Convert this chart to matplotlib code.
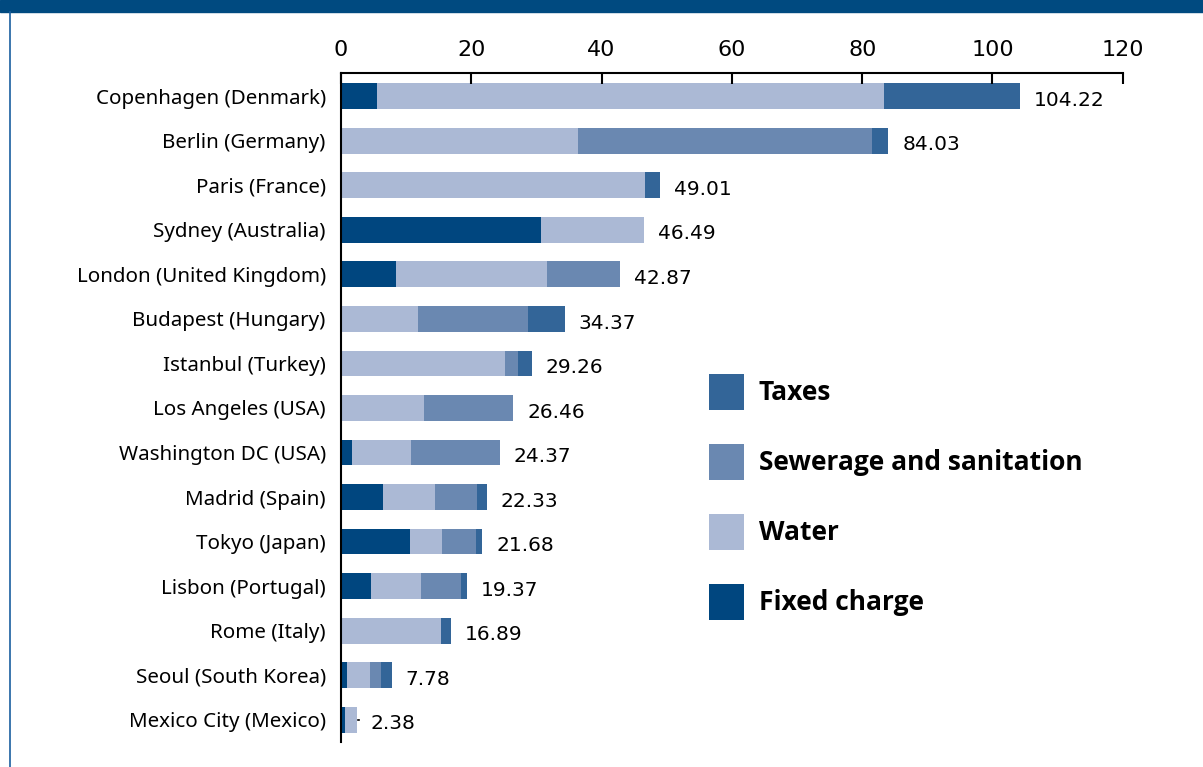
import matplotlib.pyplot as plt
import matplotlib.lines as mlines

# Datos
ciudades = ['Copenhagen (Denmark)', 'Berlin (Germany)', 'Paris (France)', 'Sydney (Australia)',
            'London (United Kingdom)', 'Budapest (Hungary)', 'Istanbul (Turkey)', 'Los Angeles (USA)',
            'Washington DC (USA)', 'Madrid (Spain)', 'Tokyo (Japan)', 'Lisbon (Portugal)',
            'Rome (Italy)', 'Seoul (South Korea)', 'Mexico City (Mexico)']
fijo = [5.5, 0, 0, 30.7, 8.4, 0, 0, 0, 1.7, 6.4, 10.6, 4.6, 0, 0.9, 0.55]
agua = [77.9, 36.4, 46.67, 15.79, 23.2, 11.8, 25.2, 12.7, 9.0, 8.0, 4.9, 7.7, 15.35, 3.5, 1.83]
saneamiento = [0, 45.1, 0, 0, 11.27, 16.9, 2.0, 13.76, 13.67, 6.5, 5.2, 6.1, 0, 1.7, 0]
impuestos = [20.82, 2.53, 2.34, 0, 0, 5.67, 2.06, 0, 0, 1.43, 0.98, 0.97, 1.54, 1.68, 0]
totales = [104.22, 84.03, 49.01, 46.49, 42.87, 34.37, 29.26, 26.46, 24.37, 22.33, 21.68, 19.37, 16.89, 7.78, 2.38]

c_fijo = '#00467f'
c_agua = '#abb9d5'
c_san = '#6a88b1'
c_imp = '#336598'

fig = plt.figure(figsize=(12.03, 7.67), dpi=100)
ax = fig.add_axes([0.2835, 0.032, 0.6498, 0.8728])

y = range(len(ciudades))
h = 0.58
b1 = ax.barh(y, fijo, height=h, color=c_fijo, label='Fixed charge')
izq = list(fijo)
b2 = ax.barh(y, agua, height=h, left=izq, color=c_agua, label='Water')
izq = [a + b for a, b in zip(izq, agua)]
b3 = ax.barh(y, saneamiento, height=h, left=izq, color=c_san, label='Sewerage and sanitation')
izq = [a + b for a, b in zip(izq, saneamiento)]
b4 = ax.barh(y, impuestos, height=h, left=izq, color=c_imp, label='Taxes')

# Etiquetas de totales
for i, t in enumerate(totales):
    ax.annotate(f'{t:.2f}', xy=(t, i), xytext=(10, -3), textcoords='offset points',
                va='center', ha='left', fontsize=14.5, family='DejaVu Sans')
# pequena linea guia de Mexico
ax.plot([totales[-1] + 0.2, totales[-1] + 0.45], [14, 14], color='black', lw=1.2)

ax.set_xlim(0, 120)
ax.set_ylim(14.51, -0.52)
ax.set_xticks(range(0, 121, 20))
ax.xaxis.tick_top()
ax.tick_params(axis='x', direction='in', length=8, width=1.5, labelsize=16, pad=9.5)
ax.set_yticks(list(y))
ax.set_yticklabels(ciudades, family='Noto Sans', fontsize=14.8)
ax.tick_params(axis='y', length=0, pad=11)
for s in ['right', 'bottom']:
    ax.spines[s].set_visible(False)
ax.spines['top'].set_linewidth(1.5)
ax.spines['left'].set_linewidth(1.5)

leg = ax.legend(handles=[b4, b3, b2, b1], loc='upper left', bbox_to_anchor=(0.578, 0.530),
                bbox_transform=fig.transFigure, frameon=False, borderpad=0,
                handlelength=1.36, handleheight=1.72, handletextpad=0.55, labelspacing=1.29,
                prop={'family': 'Open Sans', 'weight': 'bold', 'size': 19})

# Banda superior y borde izquierdo
fig.patches.append(plt.Rectangle((0, 1 - 12 / 767), 1, 12 / 767, transform=fig.transFigure,
                                 color='#004a80', zorder=0))
fig.lines.append(mlines.Line2D([10 / 1203, 10 / 1203], [0, 1 - 12 / 767], transform=fig.transFigure,
                               color='#1a5fa0', lw=1.2))

plt.savefig('out.png', dpi=100)
